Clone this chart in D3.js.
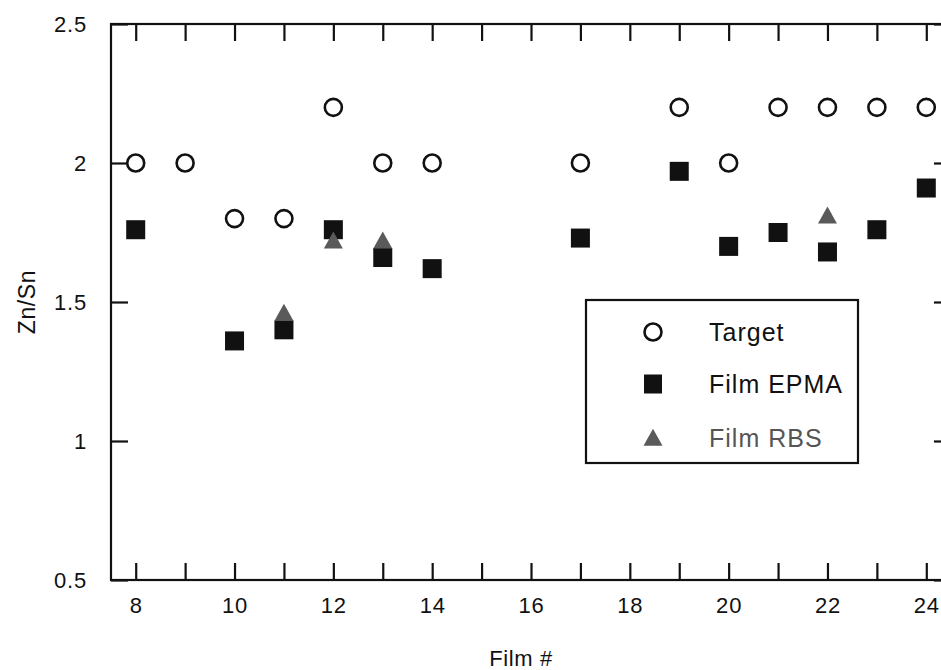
<!DOCTYPE html>
<html>
<head>
<meta charset="utf-8">
<script src="https://cdn.jsdelivr.net/npm/d3@7/dist/d3.min.js"></script>
<style>
  html, body { margin: 0; padding: 0; background: #fff; }
  svg { display: block; }
  text { font-family: "Liberation Sans", Arial, Helvetica, sans-serif; fill: #111; }
</style>
</head>
<body>
<svg id="chart" width="941" height="670"></svg>
<script>
// Film composition: Zn/Sn ratio of the sputter target and of the deposited films
const targetFilms = [8, 9, 10, 11, 12, 13, 14, 17, 19, 20, 21, 22, 23, 24];
const targetRatio = [2.0, 2.0, 1.8, 1.8, 2.2, 2.0, 2.0, 2.0, 2.2, 2.0, 2.2, 2.2, 2.2, 2.2];

const epmaFilms = [8, 10, 11, 12, 13, 14, 17, 19, 20, 21, 22, 23, 24];
const epmaRatio = [1.76, 1.36, 1.40, 1.76, 1.66, 1.62, 1.73, 1.97, 1.70, 1.75, 1.68, 1.76, 1.91];

const rbsFilms = [11, 12, 13, 22];
const rbsRatio = [1.46, 1.72, 1.72, 1.81];

const xTicks = [8, 9, 10, 11, 12, 13, 14, 15, 16, 17, 18, 19, 20, 21, 22, 23, 24];
const xTickLabels = [8, 10, 12, 14, 16, 18, 20, 22, 24];
const yTicks = [0.5, 1, 1.5, 2, 2.5];
const yTickLabels = ["0.5", "1", "1.5", "2", "2.5"];

const seriesNames = ["Target", "Film EPMA", "Film RBS"];

const svg = d3.select("#chart");
const margin = { left: 111, top: 24, right: 951, bottom: 580 };

const x = d3.scaleLinear().domain([7.5, 24.5]).range([margin.left, margin.right]);
const y = d3.scaleLinear().domain([0.5, 2.5]).range([margin.bottom, margin.top]);

const ink = "#111";
const tickLen = 17;

// frame
svg.append("rect")
  .attr("x", x(7.5)).attr("y", y(2.5))
  .attr("width", x(24.5) - x(7.5)).attr("height", y(0.5) - y(2.5))
  .attr("fill", "none").attr("stroke", ink).attr("stroke-width", 2.2);

// inward ticks on all four sides
const bottomAxis = d3.axisBottom(x).tickValues(xTicks).tickSizeInner(-tickLen).tickSizeOuter(0)
  .tickFormat(d => xTickLabels.includes(d) ? d : "").tickPadding(17);
const topAxis = d3.axisTop(x).tickValues(xTicks).tickSizeInner(-tickLen).tickSizeOuter(0).tickFormat("");
const leftAxis = d3.axisLeft(y).tickValues(yTicks).tickSizeInner(-tickLen).tickSizeOuter(0)
  .tickFormat((d, i) => yTickLabels[i]).tickPadding(24);
const rightAxis = d3.axisRight(y).tickValues(yTicks).tickSizeInner(-tickLen).tickSizeOuter(0).tickFormat("");

function styleAxis(g) {
  g.select(".domain").remove();
  g.selectAll(".tick line").attr("stroke", ink).attr("stroke-width", 2.2);
  g.selectAll(".tick text").attr("font-size", 22).attr("letter-spacing", 0.8).style("fill", ink);
}

svg.append("g").attr("transform", `translate(0,${y(0.5)})`).call(bottomAxis).call(styleAxis);
svg.append("g").attr("transform", `translate(0,${y(2.5)})`).call(topAxis).call(styleAxis);
svg.append("g").attr("transform", `translate(${x(7.5)},0)`).call(leftAxis).call(styleAxis);
svg.append("g").attr("transform", `translate(${x(24.5)},0)`).call(rightAxis).call(styleAxis);

// axis titles
svg.append("text")
  .attr("x", 521).attr("y", 666)
  .attr("text-anchor", "middle").attr("font-size", 22)
  .attr("letter-spacing", 0.6)
  .text("Film #");
svg.append("text")
  .attr("transform", `translate(35,${(y(0.5) + y(2.5)) / 2}) rotate(-90)`)
  .attr("text-anchor", "middle").attr("font-size", 23)
  .attr("letter-spacing", 0.6)
  .text("Zn/Sn");

// marker shapes
const sq = 19;
const triPath = (cx, cy) => {
  const w = 19, h = 17;
  return `M${cx},${cy - h * 0.55}L${cx + w / 2},${cy + h * 0.45}L${cx - w / 2},${cy + h * 0.45}Z`;
};
const rbsColor = "#5a5a5a";

// target points (open circles)
svg.append("g").selectAll("circle")
  .data(targetFilms.map((f, i) => [f, targetRatio[i]]))
  .join("circle")
  .attr("cx", d => x(d[0])).attr("cy", d => y(d[1]))
  .attr("r", 8.5)
  .attr("fill", "#fff").attr("stroke", ink).attr("stroke-width", 2.6);

// EPMA points (filled squares)
svg.append("g").selectAll("rect")
  .data(epmaFilms.map((f, i) => [f, epmaRatio[i]]))
  .join("rect")
  .attr("x", d => x(d[0]) - sq / 2).attr("y", d => y(d[1]) - sq / 2)
  .attr("width", sq).attr("height", sq)
  .attr("fill", ink);

// RBS points (grey triangles)
svg.append("g").selectAll("path")
  .data(rbsFilms.map((f, i) => [f, rbsRatio[i]]))
  .join("path")
  .attr("d", d => triPath(x(d[0]), y(d[1])))
  .attr("fill", rbsColor);

// legend
const lg = svg.append("g").attr("transform", "translate(586,300)");
lg.append("rect").attr("width", 272).attr("height", 163)
  .attr("fill", "#fff").attr("stroke", ink).attr("stroke-width", 2.2);
const rows = [32, 84, 138];
const mx = 67, tx = 123;
lg.append("circle").attr("cx", mx).attr("cy", rows[0]).attr("r", 8.5)
  .attr("fill", "#fff").attr("stroke", ink).attr("stroke-width", 2.6);
lg.append("rect").attr("x", mx - sq / 2 + 0.5).attr("y", rows[1] - sq / 2).attr("width", sq - 1).attr("height", sq)
  .attr("fill", ink);
lg.append("path").attr("d", triPath(mx, rows[2])).attr("fill", rbsColor);
lg.selectAll("text.lbl")
  .data(seriesNames)
  .join("text")
  .attr("class", "lbl")
  .attr("x", tx).attr("y", (d, i) => rows[i])
  .attr("dy", "0.36em")
  .attr("font-size", 25)
  .attr("letter-spacing", 1)
  .style("fill", (d, i) => i === 2 ? "#555" : ink)
  .text(d => d);
</script>
</body>
</html>
